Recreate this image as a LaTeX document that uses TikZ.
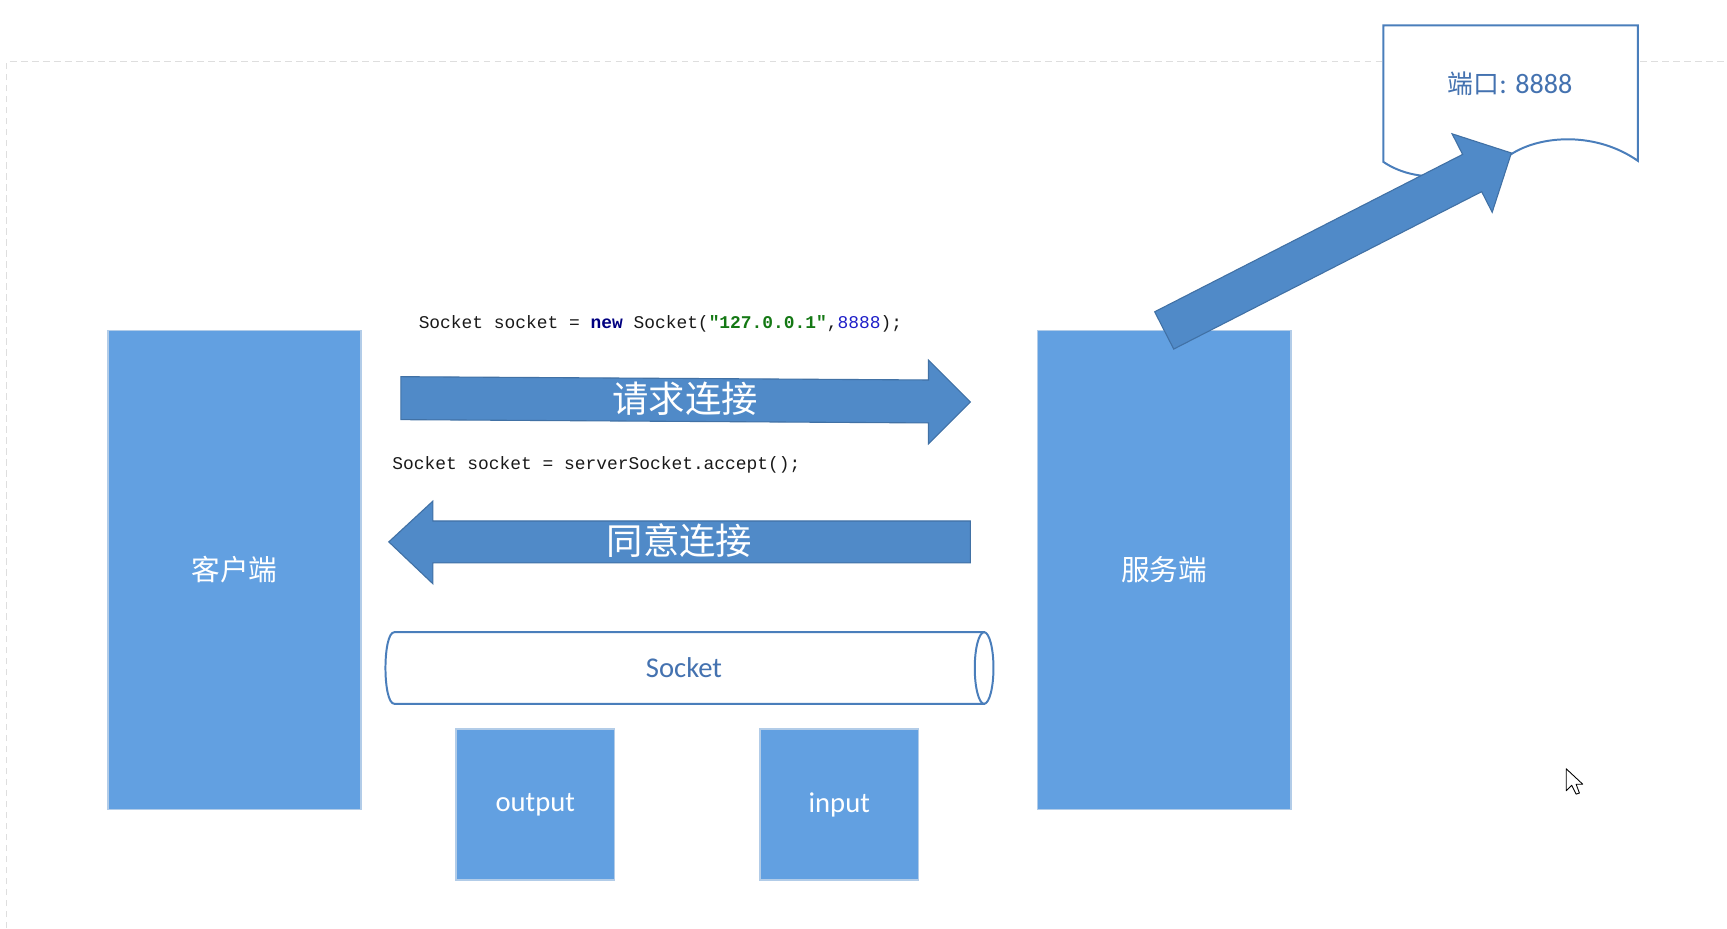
\documentclass[tikz,border=0pt]{standalone}
\usepackage{fontspec}
\setmainfont{Carlito}
\newfontfamily\cjk{Noto Sans CJK SC}
\newfontfamily\code{Liberation Mono}
\definecolor{boxblue}{RGB}{98,160,225}
\definecolor{boxedge}{RGB}{178,204,232}
\definecolor{arrowblue}{RGB}{80,138,200}
\definecolor{arrowedge}{RGB}{65,113,165}
\definecolor{lineblue}{RGB}{74,126,187}
\definecolor{textblue}{RGB}{68,114,176}
\definecolor{dashgray}{RGB}{222,222,222}
\definecolor{codenavy}{RGB}{0,0,128}
\definecolor{codegreen}{RGB}{20,120,20}
\definecolor{codeblue}{RGB}{30,30,200}
\definecolor{codeblack}{RGB}{25,25,25}
\begin{document}
\begin{tikzpicture}[x=1pt,y=-1pt,
  bluebox/.style={fill=boxblue, draw=boxedge, line width=1.5pt, text=white, inner sep=0pt},
  bigcjk/.style={font=\cjk\fontsize{26}{30}\selectfont},
  latin/.style={font=\fontsize{26}{30}\selectfont},
  arrowtext/.style={text=white, font=\cjk\fontsize{33}{38}\selectfont, inner sep=0pt},
  blockarrow/.style={fill=arrowblue, draw=arrowedge, line width=1pt},
  outline/.style={draw=lineblue, line width=1.8pt, fill=white},
  codetext/.style={anchor=west, inner sep=0pt, text=codeblack, font=\code\fontsize{16.25}{20}\selectfont},
]
\useasboundingbox (0,0) rectangle (1568,843);
% page border
\draw[dashgray, dash pattern=on 6pt off 4pt, line width=1pt] (6,843) -- (6,56) -- (1568,56);

% main boxes
\node[bluebox, bigcjk, minimum width=230pt, minimum height=435pt] (client) at (213,517.5) {客户端};
\node[bluebox, bigcjk, minimum width=230pt, minimum height=435pt] (server) at (1057,517.5) {服务端};
\node[bluebox, latin, minimum width=144pt, minimum height=137pt] (output) at (486,730.5) {output};
\node[bluebox, latin, minimum width=144pt, minimum height=137pt] (input) at (762,730.5) {input};

% code lines
\node[codetext] (code1) at (380,294)
  {Socket socket = \textbf{\color{codenavy}new} Socket(\textbf{\color{codegreen}"127.0.0.1"},{\color{codeblue}8888});};
\node[codetext] (code2) at (356,422)
  {Socket socket = serverSocket.accept();};

% request arrow
\draw[blockarrow] (364,342) -- (843,345) -- (843,327) -- (881,365) -- (843,403) -- (843,384) -- (364,381) -- cycle;
\node[arrowtext] (req) at (622,362) {请求连接};

% agree arrow
\draw[blockarrow] (881,473) -- (393,473) -- (393,455) -- (353,492) -- (393,530) -- (393,511) -- (881,511) -- cycle;
\node[arrowtext] (agree) at (617,491) {同意连接};

% socket cylinder
\draw[outline] (358,574) -- (893.5,574) -- (893.5,639) -- (358,639) .. controls (347.3,639) and (347.3,574) .. (358,574) -- cycle;
\draw[outline] (893.5,606.5) ellipse [x radius=8.5pt, y radius=32.5pt];
\node[text=textblue, latin, inner sep=0pt] (sock) at (621,606.5) {Socket};

% port document
\draw[outline] (1256,23) -- (1487,23) -- (1487,146) .. controls (1450,120) and (1400,122) .. (1372,140)
  .. controls (1340,160) and (1290,170) .. (1256,147) -- cycle;
\node[text=textblue, inner sep=0pt, font=\fontsize{25.5}{30}\selectfont] (port) at (1371,76) {{\cjk\fontsize{23.5}{28}\selectfont 端口}: 8888};

% diagonal arrow from server to port
\coordinate (armstart) at (1057,300);
\begin{scope}[shift={(armstart)}, rotate=27.07]
\draw[blockarrow] (0,-19) -- (314,-19) -- (314,-40) -- (354,0) -- (314,40) -- (314,19) -- (0,19) -- cycle;
\end{scope}

% mouse cursor
\draw[black, fill=white, line width=0.8pt, line join=round] (1422,698) -- (1422,718) -- (1427,713) -- (1431,721) -- (1434,720) -- (1431,712) -- (1437,712) -- cycle;
\end{tikzpicture}
\end{document}
